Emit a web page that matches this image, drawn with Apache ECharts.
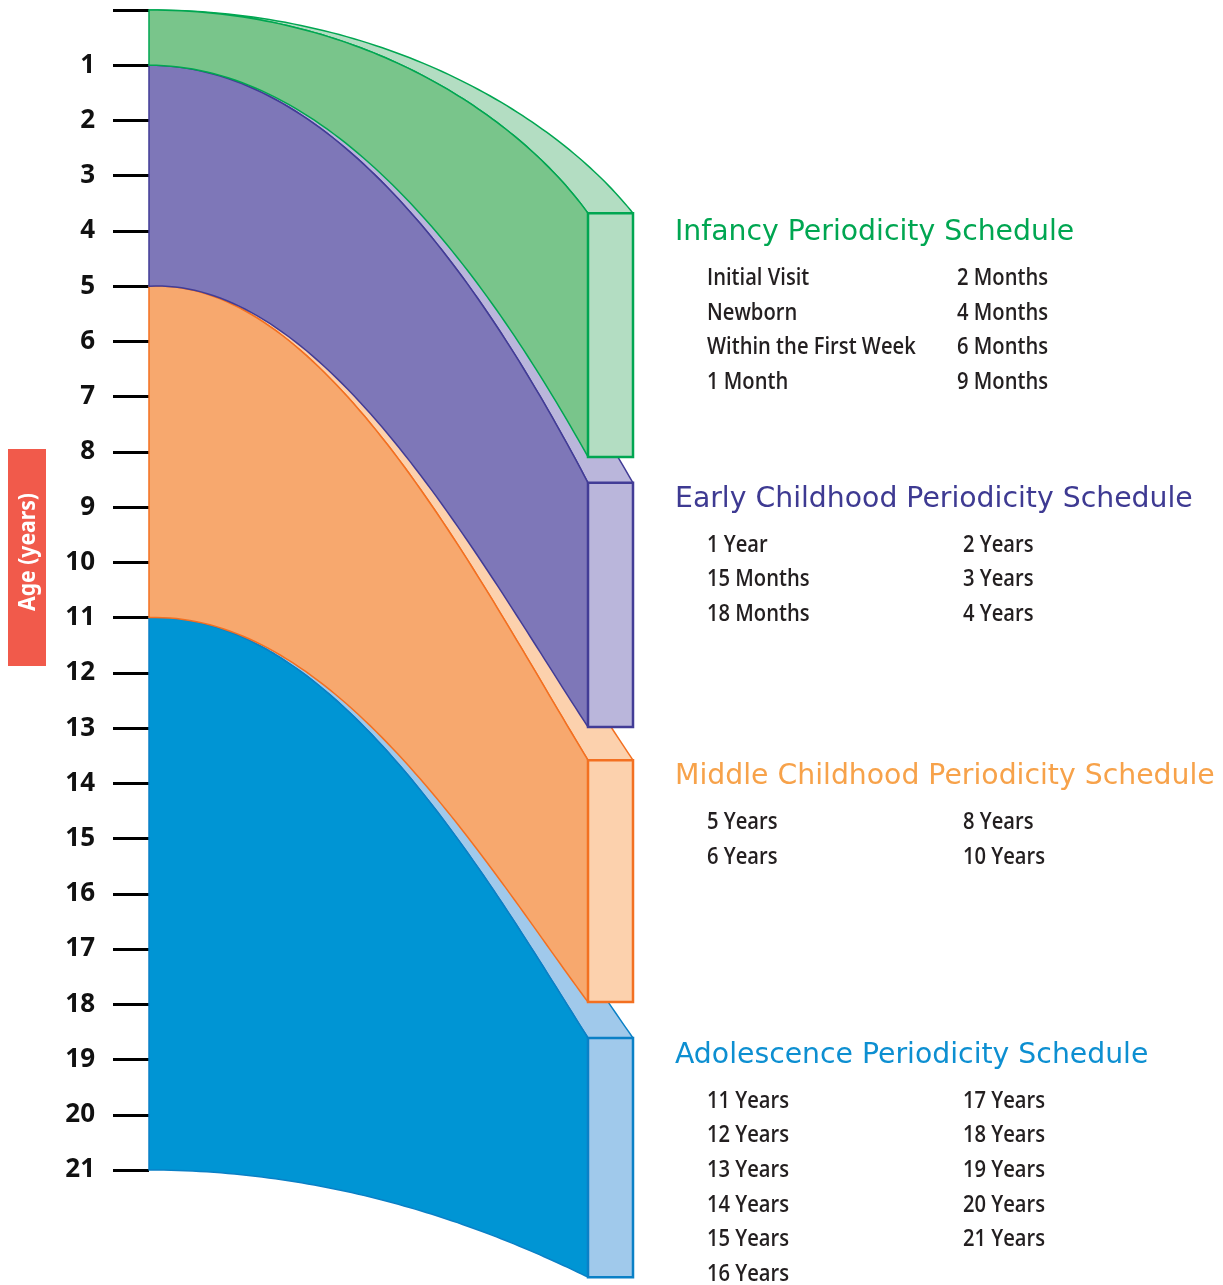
<!DOCTYPE html>
<html>
<head>
<meta charset="utf-8">
<script src="https://cdn.jsdelivr.net/npm/echarts@6/dist/echarts.min.js"></script>
<style>
html,body{margin:0;padding:0;background:#ffffff;}
#chart{width:1223px;height:1285px;}
</style>
</head>
<body>
<div id="chart"></div>
<script>
// ---------------- DATA ----------------
const ageTicks = [0,1,2,3,4,5,6,7,8,9,10,11,12,13,14,15,16,17,18,19,20,21];
const stageTitles = [
  'Infancy Periodicity Schedule',
  'Early Childhood Periodicity Schedule',
  'Middle Childhood Periodicity Schedule',
  'Adolescence Periodicity Schedule'
];
// age span of each stage on the axis (left edge of each band)
const stageStartAge = [0, 1, 5, 11];
const stageEndAge = [1, 5, 11, 21];
// where each band reaches the box on the right, in axis units
const boxTopAge = [3.68, 8.56, 13.58, 18.61];
const boxBottomAge = [8.09, 12.98, 17.96, 22.94];

const infancyVisits = ['Initial Visit','Newborn','Within the First Week','1 Month','2 Months','4 Months','6 Months','9 Months'];
const earlyVisits   = ['1 Year','15 Months','18 Months','2 Years','3 Years','4 Years'];
const middleVisits  = ['5 Years','6 Years','8 Years','10 Years'];
const adolVisits    = ['11 Years','12 Years','13 Years','14 Years','15 Years','16 Years','17 Years','18 Years','19 Years','20 Years','21 Years'];

const axisName = 'Age (years)';

// ---------------- STYLE ----------------
const visitLists = [infancyVisits, earlyVisits, middleVisits, adolVisits];
const frontColors = ['#79c58b', '#7e77b8', '#f7a86e', '#0095d4'];
const lightColors = ['#b3ddc2', '#bab6db', '#fcd1ad', '#a0c9eb'];
const edgeColors  = ['#00a651', '#423c96', '#f37021', '#0a80c6'];
const titleColors = ['#00a651', '#3e3a92', '#f7a24a', '#0d8fd1'];
const titleOffset = [19.5, 16.5, 16.5, 17.5];
const col2Offset  = [250, 256, 256, 256];
// bezier handle shape of each edge: [h1x, h1y, h2x, h2y] in normalised band units
const topShape    = [[0.50, 0, 0.85, 0.55], [0.45, 0, 0.80, 0.60], [0.40, -0.02, 0.75, 0.62], [0.42, -0.015, 0.77, 0.62]];
const bottomShape = [[0.45, 0, 0.80, 0.60], [0.40, -0.02, 0.75, 0.62], [0.42, -0.015, 0.76, 0.63], [0.45, 0, 0.80, 0.60]];
const DEPTH = 1 + 45 / 439;

function edgePoints(a0, a1, sh, xs) {
  // cubic bezier from (0,a0) to (1,a1) in axis units, sampled
  const pts = [];
  const d = a1 - a0;
  const P = [[0, a0], [sh[0], a0 + sh[1] * d], [sh[2], a0 + sh[3] * d], [1, a1]];
  const steps = 80;
  for (let s = 0; s <= steps; s++) {
    const u = s / steps, v = 1 - u;
    const b0 = v*v*v, b1 = 3*v*v*u, b2 = 3*v*u*u, b3 = u*u*u;
    pts.push([(b0*P[0][0] + b1*P[1][0] + b2*P[2][0] + b3*P[3][0]) * xs,
              b0*P[0][1] + b1*P[1][1] + b2*P[2][1] + b3*P[3][1]]);
  }
  return pts;
}

const chart = echarts.init(document.getElementById('chart'), null, {renderer: 'canvas'});

function renderItem(params, api) {
  const i = api.value(0);
  const a0 = stageStartAge[i], a1 = i < 3 ? stageStartAge[i + 1] : stageEndAge[i];
  const toPx = p => api.coord(p);
  const topPts = edgePoints(a0, boxTopAge[i], topShape[i], 1).map(toPx);
  const botPts = edgePoints(a1, boxBottomAge[i], bottomShape[i], 1).map(toPx);
  const backPts = edgePoints(a0, boxTopAge[i], topShape[i], DEPTH).map(toPx);
  const frontTR = api.coord([1, boxTopAge[i]]);
  const frontBR = api.coord([1, boxBottomAge[i]]);
  const backTR = api.coord([DEPTH, boxTopAge[i]]);

  const topFace = backPts.concat([frontTR]).concat(topPts.slice().reverse());
  const frontFace = topPts.concat([frontBR]).concat(botPts.slice().reverse());

  const children = [
    {type: 'polygon', shape: {points: topFace},
     style: {fill: lightColors[i], stroke: edgeColors[i], lineWidth: 1.5, lineJoin: 'round'}},
    {type: 'polygon', shape: {points: frontFace},
     style: {fill: frontColors[i], stroke: edgeColors[i], lineWidth: 1.5, lineJoin: 'round'}},
    {type: 'rect', shape: {x: frontTR[0], y: frontTR[1], width: backTR[0] - frontTR[0], height: frontBR[1] - frontTR[1]},
     style: {fill: lightColors[i], stroke: edgeColors[i], lineWidth: 2.5}}
  ];

  const tx = backTR[0] + 42;
  const ty = frontTR[1] + titleOffset[i];
  children.push({
    type: 'text', x: tx, y: ty,
    style: {text: stageTitles[i], fill: titleColors[i], font: '28.3px "DejaVu Sans"', align: 'left', verticalAlign: 'middle'}
  });
  const list = visitLists[i];
  const perCol = Math.ceil(list.length / 2);
  list.forEach((name, k) => {
    const col = k < perCol ? 0 : 1;
    const row = col === 0 ? k : k - perCol;
    children.push({
      type: 'text', x: tx + 32 + col * col2Offset[i], y: ty + 45.5 + row * 34.6, scaleX: 0.84,
      style: {text: name, fill: '#231f20', font: '600 24px "Open Sans"', align: 'left', verticalAlign: 'middle'}
    });
  });
  return {type: 'group', children: children};
}

chart.setOption({
  animation: false,
  backgroundColor: '#ffffff',
  grid: {left: 149, top: 10, width: 439, height: 1160, containLabel: false},
  xAxis: {type: 'value', min: 0, max: 1, show: false},
  yAxis: {
    type: 'value', inverse: true, min: 0, max: 21, interval: 1,
    axisLine: {show: false},
    axisTick: {show: true, length: 36, lineStyle: {color: '#000000', width: 3}},
    axisLabel: {
      margin: 54, color: '#111111', fontSize: 26, fontWeight: 'bold', fontFamily: 'Noto Sans',
      formatter: v => (v === 0 ? '' : String(ageTicks[v]))
    },
    splitLine: {show: false}
  },
  graphic: [
    {type: 'rect', left: 8, top: 449, shape: {width: 38, height: 217}, style: {fill: '#f15a4b'}},
    {type: 'text', x: 28, y: 552, rotation: Math.PI / 2, scaleX: 0.92,
     style: {text: axisName, fill: '#ffffff', font: 'bold 23px "Noto Sans"', align: 'center', verticalAlign: 'middle'}}
  ],
  series: [{
    type: 'custom',
    coordinateSystem: 'cartesian2d',
    clip: false,
    renderItem: renderItem,
    encode: {x: 1, y: 2},
    data: [3, 2, 1, 0].map(i => [i, 0.5, stageStartAge[i]])
  }]
});
</script>
</body>
</html>
